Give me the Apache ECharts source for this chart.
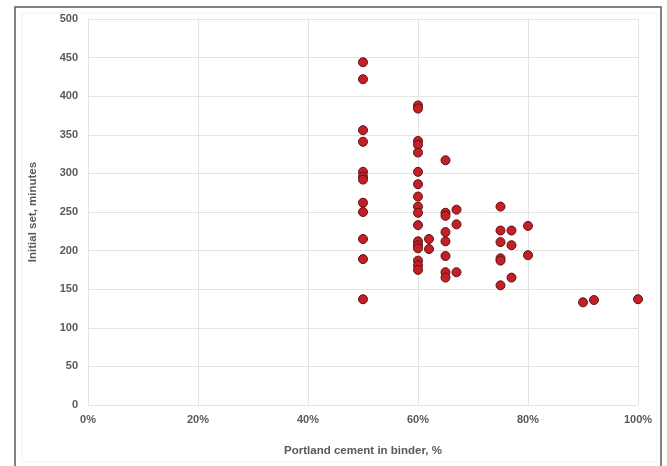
<!DOCTYPE html>
<html>
<head>
<meta charset="utf-8">
<script src="https://cdn.jsdelivr.net/npm/echarts@6/dist/echarts.min.js"></script>
<style>
  html, body { margin: 0; padding: 0; background: #ffffff; }
  #chart { width: 667px; height: 466px; }
</style>
</head>
<body>
<div id="chart"></div>
<script>
// Portland cement share in the binder (%) and the matching initial set times (minutes)
const cementPct = [
  50, 50, 50, 50, 50, 50, 50, 50, 50, 50, 50, 50,
  60, 60, 60, 60, 60, 60, 60, 60, 60, 60, 60, 60, 60, 60, 60, 60, 60,
  62, 62,
  65, 65, 65, 65, 65, 65, 65, 65,
  67, 67, 67,
  75, 75, 75, 75, 75, 75,
  77, 77, 77,
  80, 80,
  90, 92, 100
];
const initialSet = [
  444, 422, 356, 341, 302, 296, 292, 262, 250, 215, 189, 137,
  388, 384, 342, 337, 327, 302, 286, 270, 257, 249, 233, 212, 207, 203, 187, 181, 175,
  215, 202,
  317, 249, 245, 224, 212, 193, 172, 165,
  253, 234, 172,
  257, 226, 211, 190, 187, 155,
  226, 207, 165,
  232, 194,
  133, 136, 137
];
const yTicks = [0, 50, 100, 150, 200, 250, 300, 350, 400, 450, 500];

const points = cementPct.map((x, i) => [x, initialSet[i]]);

const labelStyle = {
  color: '#595959',
  fontFamily: 'Liberation Sans, Arial, sans-serif',
  fontWeight: 'bold',
  fontSize: 11
};

const chart = echarts.init(document.getElementById('chart'), null, { renderer: 'canvas' });
chart.setOption({
  animation: false,
  backgroundColor: '#ffffff',
  graphic: [
    {
      type: 'rect',
      shape: { x: 15, y: 7, width: 646, height: 470 },
      style: { fill: 'none', stroke: '#5a5a5a', lineWidth: 1.5 },
      silent: true
    },
    {
      type: 'rect',
      shape: { x: 22, y: 13, width: 635, height: 449 },
      style: { fill: 'none', stroke: '#f2f2f2', lineWidth: 1 },
      silent: true
    }
  ],
  grid: { left: 88, right: 29, top: 19, bottom: 61, containLabel: false },
  xAxis: {
    type: 'value',
    min: 0,
    max: 100,
    interval: 20,
    name: 'Portland cement in binder, %',
    nameLocation: 'middle',
    nameGap: 40,
    nameTextStyle: Object.assign({}, labelStyle, { fontSize: 11.5 }),
    axisLine: { show: false },
    axisTick: { show: false },
    axisLabel: Object.assign({}, labelStyle, { margin: 9, formatter: v => v + '%' }),
    splitLine: { show: true, lineStyle: { color: '#e3e3e3', width: 1 } }
  },
  yAxis: {
    type: 'value',
    min: yTicks[0],
    max: yTicks[yTicks.length - 1],
    interval: yTicks[1] - yTicks[0],
    name: 'Initial set, minutes',
    nameLocation: 'middle',
    nameGap: 49,
    nameTextStyle: Object.assign({}, labelStyle, { fontSize: 11.5 }),
    axisLine: { show: false },
    axisTick: { show: false },
    axisLabel: Object.assign({}, labelStyle, { margin: 10 }),
    splitLine: { show: true, lineStyle: { color: '#e3e3e3', width: 1 } }
  },
  series: [{
    type: 'scatter',
    data: points,
    symbol: 'circle',
    symbolSize: 9,
    itemStyle: {
      color: '#c41f27',
      opacity: 1,
      borderColor: '#5e1212',
      borderWidth: 1
    }
  }]
});
</script>
</body>
</html>
